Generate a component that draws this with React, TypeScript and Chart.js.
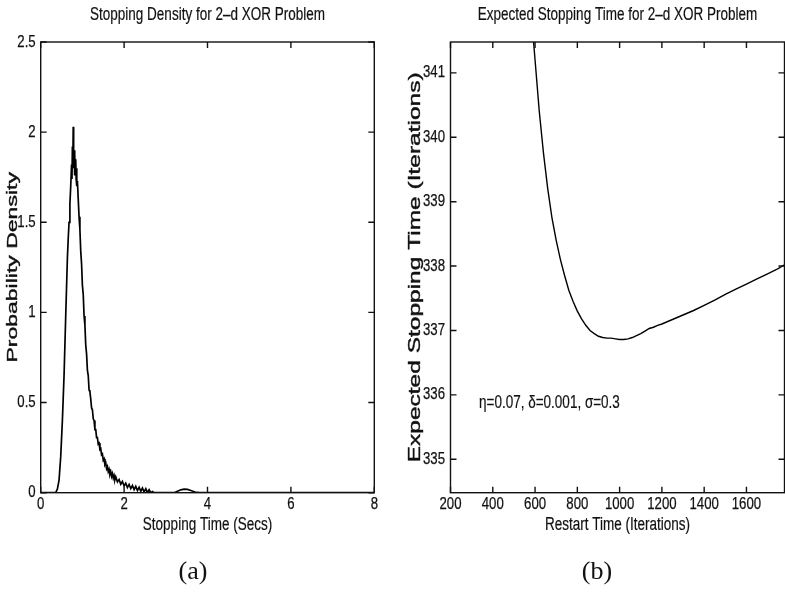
import React, { useEffect, useRef } from 'react';
import { Chart, registerables } from 'chart.js';

Chart.register(...registerables);

// ---------- data ----------
const DENSITY_TIME = [
  0, 0.36, 0.40, 0.44, 0.48, 0.52, 0.56, 0.60, 0.64, 0.66, 0.68, 0.70, 0.72, 0.74,
  0.75, 0.76, 0.77, 0.78, 0.79, 0.80, 0.81, 0.82, 0.83, 0.84, 0.85, 0.86, 0.87, 0.88,
  0.90, 0.92, 0.94, 0.96, 0.98, 1.00, 1.02, 1.04, 1.06, 1.08, 1.10, 1.12, 1.14, 1.16, 1.18,
  1.20, 1.22, 1.24, 1.26, 1.28, 1.30, 1.32, 1.34, 1.36, 1.38, 1.40, 1.42, 1.44, 1.46, 1.48,
  1.50, 1.52, 1.54, 1.56, 1.58, 1.60, 1.62, 1.64, 1.66, 1.68, 1.70, 1.72, 1.74, 1.76, 1.78,
  1.80, 1.84, 1.88, 1.92, 1.96, 2.00, 2.04, 2.08, 2.12, 2.16, 2.20, 2.24, 2.28, 2.32, 2.36,
  2.40, 2.44, 2.48, 2.52, 2.56, 2.60, 2.64, 2.68, 2.72, 3.20, 3.28, 3.36, 3.44, 3.52, 3.60,
  3.70, 3.80, 8,
];
const DENSITY_VALUE = [
  0, 0, 0.02, 0.07, 0.2, 0.4, 0.65, 0.98, 1.3, 1.41, 1.5, 1.6, 1.7, 1.82,
  1.74, 1.92, 1.8, 2.03, 1.84, 1.9, 1.76, 1.88, 1.79, 1.85, 1.74, 1.8, 1.7, 1.73,
  1.63, 1.53, 1.46, 1.34, 1.27, 1.15, 1.1, 0.98, 0.93, 0.82, 0.77, 0.68, 0.65, 0.57, 0.56,
  0.52, 0.47, 0.46, 0.41, 0.4, 0.35, 0.35, 0.305, 0.305, 0.27, 0.275, 0.24, 0.245, 0.21, 0.215,
  0.18, 0.188, 0.156, 0.165, 0.134, 0.145, 0.117, 0.13, 0.103, 0.117, 0.091, 0.106, 0.081, 0.096, 0.072,
  0.088, 0.06, 0.073, 0.047, 0.062, 0.037, 0.053, 0.029, 0.046, 0.023, 0.04, 0.017, 0.035, 0.012, 0.03,
  0.008, 0.026, 0.004, 0.022, 0, 0.016, 0, 0.006, 0, 0, 0.008, 0.016, 0.02, 0.018, 0.012,
  0.004, 0, 0,
];

const RESTART_TIME = [
  590, 600, 620, 640, 660, 680, 700, 720, 740, 760, 780, 800, 820, 840, 860, 880, 900,
  920, 940, 960, 980, 1000, 1020, 1040, 1060, 1080, 1100, 1120, 1140, 1160, 1180, 1200,
  1250, 1300, 1350, 1400, 1450, 1500, 1550, 1600, 1650, 1700, 1750, 1780,
];
const EXPECTED_TIME = [
  341.6, 341.2, 340.4, 339.75, 339.2, 338.75, 338.4, 338.1, 337.85, 337.62, 337.45, 337.3,
  337.18, 337.08, 337.0, 336.95, 336.91, 336.89, 336.88, 336.88, 336.87, 336.86, 336.86,
  336.87, 336.89, 336.92, 336.95, 336.99, 337.03, 337.05, 337.08, 337.1, 337.17, 337.24,
  337.31, 337.39, 337.47, 337.56, 337.64, 337.72, 337.8, 337.88, 337.96, 338.02,
];

const LEFT_X_TICKS = [0, 2, 4, 6, 8];
const LEFT_Y_TICKS = [0, 0.5, 1, 1.5, 2, 2.5];
const RIGHT_X_TICKS = [200, 400, 600, 800, 1000, 1200, 1400, 1600];
const RIGHT_Y_TICKS = [335, 336, 337, 338, 339, 340, 341];

const LEFT_TITLE = 'Stopping Density for 2–d XOR Problem';
const LEFT_XLABEL = 'Stopping Time (Secs)';
const LEFT_YLABEL = 'Probability Density';
const RIGHT_TITLE = 'Expected Stopping Time for 2–d XOR Problem';
const RIGHT_XLABEL = 'Restart Time (Iterations)';
const RIGHT_YLABEL = 'Expected Stopping Time (Iterations)';
const ANNOTATION_TEXT = 'η=0.07, δ=0.001, σ=0.3';
const ANNOTATION_AT = { x: 335, y: 335.87 };

// ---------- style ----------
const INK = '#111';
const SANS = "'Liberation Sans', Arial, Helvetica, sans-serif";
const SERIF = "'Liberation Serif', 'Times New Roman', serif";
const TICK_LEN = 6;

function hText(ctx: any, s: string, x: number, y: number, size: number, sx: number, align: string, heavy = 0) {
  ctx.save();
  ctx.translate(x, y);
  ctx.scale(sx, 1);
  ctx.font = `${size}px ${SANS}`;
  ctx.textAlign = align;
  ctx.textBaseline = 'middle';
  ctx.fillText(s, 0, 0);
  if (heavy > 0) {
    ctx.lineWidth = heavy;
    ctx.strokeStyle = INK;
    ctx.strokeText(s, 0, 0);
  }
  ctx.restore();
}

function vText(ctx: any, s: string, x: number, y: number, size: number, sy: number, heavy = 0) {
  ctx.save();
  ctx.translate(x, y);
  ctx.rotate(-Math.PI / 2);
  ctx.scale(1, sy);
  ctx.font = `${size}px ${SANS}`;
  ctx.textAlign = 'center';
  ctx.textBaseline = 'middle';
  ctx.fillText(s, 0, 0);
  if (heavy > 0) {
    ctx.lineWidth = heavy;
    ctx.strokeStyle = INK;
    ctx.strokeText(s, 0, 0);
  }
  ctx.restore();
}

type Decor = {
  title: string;
  xlabel: string;
  ylabel: string;
  ylabelSize: number;
  ylabelX: number;
  tickDx: number;
  panel: string;
  panelX: number;
  annotation?: { text: string; x: number; y: number };
};

function makeDecor(d: Decor) {
  return {
    id: 'decor',
    afterDraw(chart: any) {
      const ctx = chart.ctx;
      const a = chart.chartArea;
      const xs = chart.scales.x;
      const ys = chart.scales.y;
      ctx.save();
      ctx.strokeStyle = INK;
      ctx.lineWidth = 1.4;
      ctx.strokeRect(a.left, a.top, a.right - a.left, a.bottom - a.top);
      ctx.beginPath();
      xs.ticks.forEach((t: any) => {
        const p = xs.getPixelForValue(t.value);
        ctx.moveTo(p, a.bottom);
        ctx.lineTo(p, a.bottom - TICK_LEN);
        ctx.moveTo(p, a.top);
        ctx.lineTo(p, a.top + TICK_LEN);
      });
      ys.ticks.forEach((t: any) => {
        const p = ys.getPixelForValue(t.value);
        ctx.moveTo(a.left, p);
        ctx.lineTo(a.left + TICK_LEN, p);
        ctx.moveTo(a.right, p);
        ctx.lineTo(a.right - TICK_LEN, p);
      });
      ctx.stroke();
      ctx.fillStyle = INK;
      xs.ticks.forEach((t: any) => {
        hText(ctx, String(t.value), xs.getPixelForValue(t.value), a.bottom + 12, 16.5, 0.8, 'center', 0.25);
      });
      ys.ticks.forEach((t: any) => {
        hText(ctx, String(t.value), a.left - d.tickDx, ys.getPixelForValue(t.value), 16.5, 0.8, 'right', 0.25);
      });
      const cx = (a.left + a.right) / 2;
      hText(ctx, d.title, cx, 15, 18, 0.75, 'center', 0.2);
      hText(ctx, d.xlabel, cx, a.bottom + 32, 18, 0.75, 'center', 0.2);
      vText(ctx, d.ylabel, d.ylabelX, (a.top + a.bottom) / 2, d.ylabelSize, 0.64, 0.6);
      if (d.annotation) {
        hText(ctx, d.annotation.text, xs.getPixelForValue(d.annotation.x), ys.getPixelForValue(d.annotation.y), 18, 0.75, 'left', 0.2);
      }
      ctx.font = `26px ${SERIF}`;
      ctx.textAlign = 'center';
      ctx.textBaseline = 'middle';
      ctx.fillText(d.panel, d.panelX, 572);
      ctx.restore();
    },
  };
}

type PanelCfg = {
  xs: number[];
  ys: number[];
  xMin: number;
  xMax: number;
  yMin: number;
  yMax: number;
  xTicks: number[];
  yTicks: number[];
  axisWidth: number;
  padRight: number;
  lineWidth: number;
  decor: Decor;
};

function buildChart(canvas: HTMLCanvasElement, p: PanelCfg) {
  const points = p.xs.map((x, i) => ({ x, y: p.ys[i] }));
  return new Chart(canvas, {
    type: 'line',
    data: {
      datasets: [
        {
          data: points,
          borderColor: '#000',
          borderWidth: p.lineWidth,
          pointRadius: 0,
          tension: 0,
          fill: false,
        },
      ],
    },
    options: {
      responsive: false,
      animation: false,
      devicePixelRatio: 1,
      layout: { padding: { left: 0, top: 42, right: p.padRight, bottom: 0 } },
      plugins: { legend: { display: false }, tooltip: { enabled: false }, title: { display: false } },
      scales: {
        x: {
          type: 'linear',
          min: p.xMin,
          max: p.xMax,
          grid: { display: false, drawTicks: false },
          border: { display: false },
          ticks: { display: false },
          afterBuildTicks: (s: any) => {
            s.ticks = p.xTicks.map((v) => ({ value: v }));
          },
          afterFit: (s: any) => {
            s.height = 592 - 492.7;
          },
        },
        y: {
          type: 'linear',
          min: p.yMin,
          max: p.yMax,
          grid: { display: false, drawTicks: false },
          border: { display: false },
          ticks: { display: false },
          afterBuildTicks: (s: any) => {
            s.ticks = p.yTicks.map((v) => ({ value: v }));
          },
          afterFit: (s: any) => {
            s.width = p.axisWidth;
          },
        },
      },
    } as any,
    plugins: [makeDecor(p.decor)],
  });
}

export default function App() {
  const leftRef = useRef<HTMLCanvasElement>(null);
  const rightRef = useRef<HTMLCanvasElement>(null);

  useEffect(() => {
    const left = buildChart(leftRef.current!, {
      xs: DENSITY_TIME,
      ys: DENSITY_VALUE,
      xMin: 0,
      xMax: 8,
      yMin: 0,
      yMax: 2.5,
      xTicks: LEFT_X_TICKS,
      yTicks: LEFT_Y_TICKS,
      axisWidth: 40.7,
      padRight: 400 - 374.3,
      lineWidth: 1.7,
      decor: {
        title: LEFT_TITLE,
        xlabel: LEFT_XLABEL,
        ylabel: LEFT_YLABEL,
        ylabelSize: 23,
        ylabelX: 12.5,
        tickDx: 5,
        panel: '(a)',
        panelX: 193,
      },
    });
    const right = buildChart(rightRef.current!, {
      xs: RESTART_TIME,
      ys: EXPECTED_TIME,
      xMin: 200,
      xMax: 1780,
      yMin: 334.48,
      yMax: 341.48,
      xTicks: RIGHT_X_TICKS,
      yTicks: RIGHT_Y_TICKS,
      axisWidth: 50.5,
      padRight: 0.5,
      lineWidth: 1.4,
      decor: {
        title: RIGHT_TITLE,
        xlabel: RIGHT_XLABEL,
        ylabel: RIGHT_YLABEL,
        ylabelSize: 24.5,
        ylabelX: 15.5,
        tickDx: 5.5,
        panel: '(b)',
        panelX: 197,
        annotation: { text: ANNOTATION_TEXT, x: ANNOTATION_AT.x, y: ANNOTATION_AT.y },
      },
    });
    return () => {
      left.destroy();
      right.destroy();
    };
  }, []);

  return (
    <div style={{ position: 'fixed', left: 0, top: 0, width: 785, height: 592, background: '#fff', overflow: 'hidden' }}>
      <canvas ref={leftRef} width={400} height={592} style={{ position: 'absolute', left: 0, top: 0, width: 400, height: 592 }} />
      <canvas ref={rightRef} width={385} height={592} style={{ position: 'absolute', left: 400, top: 0, width: 385, height: 592 }} />
    </div>
  );
}
